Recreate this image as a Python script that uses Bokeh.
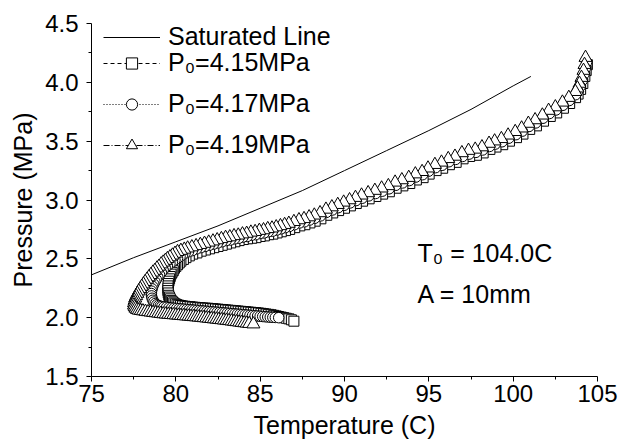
from bokeh.plotting import figure
from bokeh.models import (Range1d, FixedTicker, NumeralTickFormatter, Legend, LegendItem, Label)
from bokeh.embed import file_html
from bokeh.resources import INLINE

FONT = "Liberation Sans"

# Saturated line (Temperature C, Pressure MPa)
SAT_T = [75.0, 77.5, 80.0, 82.5, 85.0, 87.5, 90.0, 92.5, 95.0, 97.5, 100.0, 101.05]
SAT_P = [2.364, 2.51, 2.645, 2.78, 2.93, 3.08, 3.25, 3.42, 3.59, 3.77, 3.97, 4.05]

# P0 = 4.15 MPa (squares): (T, P)
SQ_POINTS = [
    (104.40, 4.15), (104.33, 4.10), (104.25, 4.05), (104.13, 3.99), (104.00, 3.94), (103.85, 3.90),
    (103.70, 3.87), (103.35, 3.82), (102.98, 3.78), (102.58, 3.74), (102.20, 3.71), (101.80, 3.67),
    (101.38, 3.63), (100.98, 3.60), (100.58, 3.56), (100.20, 3.53), (99.78, 3.50), (99.38, 3.47),
    (98.98, 3.45), (98.62, 3.43), (98.22, 3.40), (97.82, 3.38), (97.42, 3.37), (97.03, 3.35),
    (96.62, 3.32), (96.22, 3.30), (95.82, 3.27), (95.43, 3.25), (95.02, 3.22), (94.66, 3.19),
    (94.26, 3.17), (93.87, 3.14), (93.46, 3.12), (93.06, 3.10), (92.66, 3.07), (92.26, 3.05),
    (91.86, 3.03), (91.46, 3.01), (91.07, 2.99), (90.70, 2.97), (90.35, 2.95), (90.00, 2.93),
    (89.65, 2.91), (89.30, 2.89), (88.95, 2.87), (88.60, 2.84), (88.26, 2.82), (87.95, 2.805),
    (87.65, 2.79), (87.35, 2.78), (87.05, 2.765), (86.75, 2.75), (86.50, 2.74), (86.25, 2.73),
    (86.00, 2.72), (85.75, 2.71), (85.50, 2.705), (85.25, 2.695), (85.00, 2.69), (84.75, 2.68),
    (84.50, 2.675), (84.25, 2.67), (84.00, 2.664), (83.75, 2.655), (83.50, 2.645), (83.25, 2.635),
    (83.00, 2.625), (82.75, 2.615), (82.50, 2.605), (82.25, 2.595), (82.00, 2.585), (81.75, 2.575),
    (81.50, 2.565), (81.25, 2.55), (81.00, 2.54), (80.80, 2.525), (80.60, 2.51), (80.45, 2.495),
    (80.30, 2.48), (80.20, 2.465), (80.10, 2.45), (80.00, 2.435), (79.92, 2.42), (79.85, 2.40),
    (79.78, 2.385), (79.72, 2.37), (79.67, 2.35), (79.63, 2.33), (79.59, 2.31), (79.56, 2.29),
    (79.54, 2.27), (79.53, 2.25), (79.53, 2.23), (79.55, 2.21), (79.58, 2.19), (79.62, 2.175),
    (79.67, 2.16), (79.73, 2.145), (79.80, 2.135), (79.88, 2.125), (79.97, 2.117), (80.07, 2.11),
    (80.17, 2.106), (80.28, 2.103), (80.40, 2.10), (80.55, 2.097), (80.70, 2.095), (80.85, 2.093),
    (81.00, 2.09), (81.15, 2.088), (81.30, 2.086), (81.45, 2.084), (81.60, 2.082), (81.75, 2.081),
    (81.90, 2.08), (82.05, 2.078), (82.20, 2.076), (82.35, 2.074), (82.50, 2.072), (82.65, 2.07),
    (82.80, 2.068), (82.95, 2.066), (83.10, 2.064), (83.25, 2.062), (83.40, 2.06), (83.55, 2.058),
    (83.70, 2.056), (83.85, 2.054), (84.00, 2.052), (84.15, 2.05), (84.30, 2.048), (84.45, 2.046),
    (84.60, 2.044), (84.75, 2.042), (84.90, 2.04), (85.05, 2.037), (85.20, 2.034), (85.35, 2.031),
    (85.50, 2.028), (85.65, 2.025), (85.80, 2.02), (85.95, 2.015), (86.10, 2.01), (86.25, 2.005),
    (86.40, 2.0), (86.55, 1.995), (86.70, 1.99), (86.85, 1.982), (87.00, 1.97),
]

# P0 = 4.17 MPa (circles): (T, P)
CI_POINTS = [
    (104.35, 4.17), (104.28, 4.12), (104.20, 4.07), (104.09, 4.015), (103.97, 3.965), (103.83, 3.925),
    (103.70, 3.895), (103.32, 3.845), (102.95, 3.805), (102.54, 3.765), (102.15, 3.735), (101.77, 3.695),
    (101.34, 3.655), (100.94, 3.625), (100.54, 3.585), (100.16, 3.555), (99.74, 3.525), (99.34, 3.495),
    (98.94, 3.475), (98.60, 3.455), (98.19, 3.425), (97.79, 3.405), (97.39, 3.39), (97.00, 3.37),
    (96.59, 3.345), (96.19, 3.325), (95.79, 3.295), (95.40, 3.275), (94.99, 3.245), (94.63, 3.215),
    (94.23, 3.195), (93.84, 3.165), (93.44, 3.145), (93.04, 3.125), (92.64, 3.095), (92.24, 3.075),
    (91.84, 3.055), (91.44, 3.035), (91.05, 3.015), (90.68, 2.995), (90.33, 2.975), (89.98, 2.955),
    (89.63, 2.935), (89.28, 2.915), (88.93, 2.895), (88.58, 2.865), (88.24, 2.845), (87.93, 2.83),
    (87.63, 2.815), (87.33, 2.805), (87.03, 2.79), (86.73, 2.775), (86.48, 2.765), (86.23, 2.755),
    (85.98, 2.745), (85.73, 2.735), (85.48, 2.73), (85.23, 2.72), (84.98, 2.715), (84.73, 2.705),
    (84.48, 2.70), (84.23, 2.69), (83.98, 2.685), (83.73, 2.675), (83.48, 2.67), (83.23, 2.66),
    (82.98, 2.655), (82.73, 2.645), (82.48, 2.635), (82.23, 2.625), (81.98, 2.615), (81.73, 2.605),
    (81.48, 2.595), (81.23, 2.585), (80.98, 2.57), (80.75, 2.56), (80.55, 2.548), (80.40, 2.535),
    (80.25, 2.52), (80.10, 2.505), (79.95, 2.49), (79.80, 2.475), (79.65, 2.46), (79.50, 2.44),
    (79.37, 2.425), (79.25, 2.405), (79.14, 2.385), (79.03, 2.365), (78.93, 2.345), (78.84, 2.325),
    (78.76, 2.305), (78.69, 2.285), (78.63, 2.265), (78.59, 2.245), (78.56, 2.225), (78.55, 2.205),
    (78.56, 2.185), (78.59, 2.165), (78.64, 2.148), (78.70, 2.133), (78.78, 2.12), (78.87, 2.11),
    (78.97, 2.103), (79.07, 2.098), (79.17, 2.094), (79.30, 2.09), (79.45, 2.088), (79.60, 2.085),
    (79.75, 2.082), (79.90, 2.08), (80.05, 2.078), (80.20, 2.076), (80.35, 2.074), (80.50, 2.072),
    (80.65, 2.07), (80.80, 2.068), (80.95, 2.066), (81.10, 2.064), (81.25, 2.062), (81.40, 2.06),
    (81.55, 2.058), (81.70, 2.056), (81.85, 2.054), (82.00, 2.052), (82.15, 2.05), (82.30, 2.048),
    (82.45, 2.046), (82.60, 2.044), (82.75, 2.042), (82.90, 2.04), (83.05, 2.038), (83.20, 2.036),
    (83.35, 2.034), (83.50, 2.032), (83.65, 2.03), (83.80, 2.028), (83.95, 2.026), (84.10, 2.024),
    (84.25, 2.022), (84.40, 2.02), (84.55, 2.018), (84.70, 2.016), (84.85, 2.014), (85.00, 2.012),
    (85.15, 2.01), (85.30, 2.008), (85.45, 2.006), (85.60, 2.004), (85.75, 2.003), (85.90, 2.002),
    (86.10, 2.0),
]

# P0 = 4.19 MPa (triangles): (T, P)
TR_POINTS = [
    (104.29, 4.21), (104.23, 4.15), (104.17, 4.10), (104.05, 4.04), (103.93, 3.99), (103.81, 3.95),
    (103.69, 3.92), (103.30, 3.87), (102.92, 3.83), (102.50, 3.79), (102.10, 3.76), (101.73, 3.72),
    (101.30, 3.68), (100.90, 3.65), (100.50, 3.61), (100.12, 3.58), (99.70, 3.55), (99.30, 3.52),
    (98.90, 3.50), (98.57, 3.48), (98.15, 3.45), (97.75, 3.43), (97.35, 3.42), (96.96, 3.40),
    (96.55, 3.37), (96.15, 3.35), (95.75, 3.32), (95.36, 3.30), (94.95, 3.27), (94.60, 3.24),
    (94.20, 3.22), (93.81, 3.19), (93.40, 3.17), (93.00, 3.15), (92.60, 3.12), (92.20, 3.10),
    (91.80, 3.08), (91.40, 3.06), (91.01, 3.04), (90.65, 3.02), (90.30, 3.00), (89.95, 2.98),
    (89.60, 2.96), (89.25, 2.94), (88.90, 2.92), (88.55, 2.89), (88.21, 2.87), (87.90, 2.855),
    (87.60, 2.84), (87.30, 2.83), (87.00, 2.815), (86.70, 2.80), (86.45, 2.79), (86.20, 2.78),
    (85.95, 2.77), (85.70, 2.76), (85.45, 2.755), (85.20, 2.745), (84.95, 2.74), (84.70, 2.73),
    (84.45, 2.725), (84.20, 2.715), (83.95, 2.71), (83.70, 2.70), (83.45, 2.695), (83.20, 2.685),
    (82.95, 2.68), (82.70, 2.67), (82.45, 2.66), (82.20, 2.65), (81.95, 2.64), (81.70, 2.63),
    (81.45, 2.62), (81.20, 2.61), (80.95, 2.60), (80.70, 2.59), (80.50, 2.58), (80.30, 2.57),
    (80.10, 2.56), (79.95, 2.545), (79.80, 2.53), (79.65, 2.515), (79.50, 2.50), (79.38, 2.485),
    (79.25, 2.47), (79.13, 2.455), (79.00, 2.435), (78.88, 2.42), (78.76, 2.40), (78.64, 2.385),
    (78.52, 2.365), (78.40, 2.345), (78.29, 2.325), (78.18, 2.305), (78.08, 2.285), (77.98, 2.265),
    (77.89, 2.245), (77.80, 2.225), (77.72, 2.205), (77.65, 2.185), (77.59, 2.165), (77.55, 2.145),
    (77.52, 2.125), (77.52, 2.105), (77.56, 2.09), (77.62, 2.078), (77.70, 2.068), (77.80, 2.062),
    (77.92, 2.059), (78.05, 2.056), (78.20, 2.052), (78.35, 2.049), (78.50, 2.046), (78.65, 2.043),
    (78.80, 2.04), (78.95, 2.037), (79.10, 2.034), (79.25, 2.031), (79.40, 2.029), (79.55, 2.027),
    (79.70, 2.025), (79.85, 2.023), (80.00, 2.021), (80.15, 2.019), (80.30, 2.017), (80.45, 2.015),
    (80.60, 2.013), (80.75, 2.011), (80.90, 2.009), (81.05, 2.007), (81.20, 2.005), (81.35, 2.003),
    (81.50, 2.001), (81.65, 1.998), (81.80, 1.996), (81.95, 1.993), (82.10, 1.991), (82.25, 1.988),
    (82.40, 1.986), (82.55, 1.983), (82.70, 1.981), (82.85, 1.978), (83.00, 1.976), (83.15, 1.973),
    (83.30, 1.970), (83.45, 1.967), (83.60, 1.964), (83.75, 1.961), (83.90, 1.958), (84.05, 1.955),
    (84.20, 1.952), (84.35, 1.949), (84.60, 1.945),
]

X_TICKS = [75, 80, 85, 90, 95, 100, 105]
X_MINOR = [77.5, 82.5, 87.5, 92.5, 97.5, 102.5]
Y_TICKS = [1.5, 2.0, 2.5, 3.0, 3.5, 4.0, 4.5]
Y_MINOR = [1.75, 2.25, 2.75, 3.25, 3.75, 4.25]

LABELS = ["Saturated Line", "P\u2080=4.15MPa", "P\u2080=4.17MPa", "P\u2080=4.19MPa"]
NOTES = ["T\u2080 = 104.0C", "A = 10mm"]

SQ_T = [t for t, _ in SQ_POINTS]
SQ_P = [v for _, v in SQ_POINTS]
CI_T = [t for t, _ in CI_POINTS]
CI_P = [v for _, v in CI_POINTS]
TR_T = [t for t, _ in TR_POINTS]
TR_P = [v for _, v in TR_POINTS]

p = figure(width=627, height=441, output_backend="svg", toolbar_location=None,
           x_range=Range1d(75, 105), y_range=Range1d(1.5, 4.5),
           min_border_left=91, min_border_right=30, min_border_top=23, min_border_bottom=64)
p.outline_line_color = None
p.grid.visible = False
p.background_fill_color = "white"

for ax in (p.xaxis[0], p.yaxis[0]):
    ax.axis_line_color = "black"
    ax.axis_line_width = 1
    ax.major_tick_in = 0
    ax.major_tick_out = 5
    ax.minor_tick_in = 0
    ax.minor_tick_out = 3
    ax.major_tick_line_color = "black"
    ax.minor_tick_line_color = "black"
    ax.major_label_text_font = FONT
    ax.major_label_text_font_size = "24px"
    ax.major_label_text_color = "black"
    ax.axis_label_text_font = FONT
    ax.axis_label_text_font_size = "25px"
    ax.axis_label_text_font_style = "normal"
    ax.axis_label_text_color = "black"

p.xaxis.ticker = FixedTicker(ticks=X_TICKS, minor_ticks=X_MINOR)
p.yaxis.ticker = FixedTicker(ticks=Y_TICKS, minor_ticks=Y_MINOR)
p.xaxis.formatter = NumeralTickFormatter(format="0")
p.yaxis.formatter = NumeralTickFormatter(format="0.0")
p.xaxis.axis_label = "Temperature (C)"
p.yaxis.axis_label = "Pressure (MPa)"
p.xaxis.major_label_standoff = 3
p.yaxis.major_label_standoff = 8
p.xaxis.axis_label_standoff = 6
p.yaxis.axis_label_standoff = 5

sat = p.line(SAT_T, SAT_P, line_color="black", line_width=1)

sq_l = p.line(SQ_T, SQ_P, line_color="black", line_width=1, line_dash="4 3")
sq_m = p.scatter(SQ_T, SQ_P, marker="square", size=10, fill_color="white", line_color="black", line_width=1)
ci_l = p.line(CI_T, CI_P, line_color="black", line_width=1, line_dash="1 2")
ci_m = p.scatter(CI_T, CI_P, marker="circle", size=10.5, fill_color="white", line_color="black", line_width=1)
tr_l = p.line(TR_T, TR_P, line_color="black", line_width=1, line_dash="6 2 1 2")
tr_m = p.scatter(TR_T, TR_P, marker="triangle", size=13, fill_color="white", line_color="black", line_width=1)


def make_legend(items, loc, spacing):
    lg = Legend(items=items, location=loc)
    lg.background_fill_alpha = 0
    lg.border_line_alpha = 0
    lg.padding = 0
    lg.margin = 0
    lg.spacing = spacing
    lg.glyph_width = 57
    lg.glyph_height = 28
    lg.label_height = 28
    lg.label_standoff = 8
    lg.label_text_font = FONT
    lg.label_text_font_size = "25px"
    lg.label_text_color = "black"
    return lg


p.add_layout(make_legend([LegendItem(label=LABELS[0], renderers=[sat])], (12, 325), 0))
p.add_layout(make_legend([
    LegendItem(label=LABELS[1], renderers=[sq_l, sq_m]),
    LegendItem(label=LABELS[2], renderers=[ci_l, ci_m]),
    LegendItem(label=LABELS[3], renderers=[tr_l, tr_m]),
], (12, 217), 12))

p.add_layout(Label(x=94.33, y=2.551, text=NOTES[0], text_font=FONT, text_font_size="25px",
                   text_color="black", text_baseline="alphabetic"))
p.add_layout(Label(x=94.33, y=2.203, text=NOTES[1], text_font=FONT, text_font_size="25px",
                   text_color="black", text_baseline="alphabetic"))

open("out.html", "w").write(file_html(p, INLINE))
